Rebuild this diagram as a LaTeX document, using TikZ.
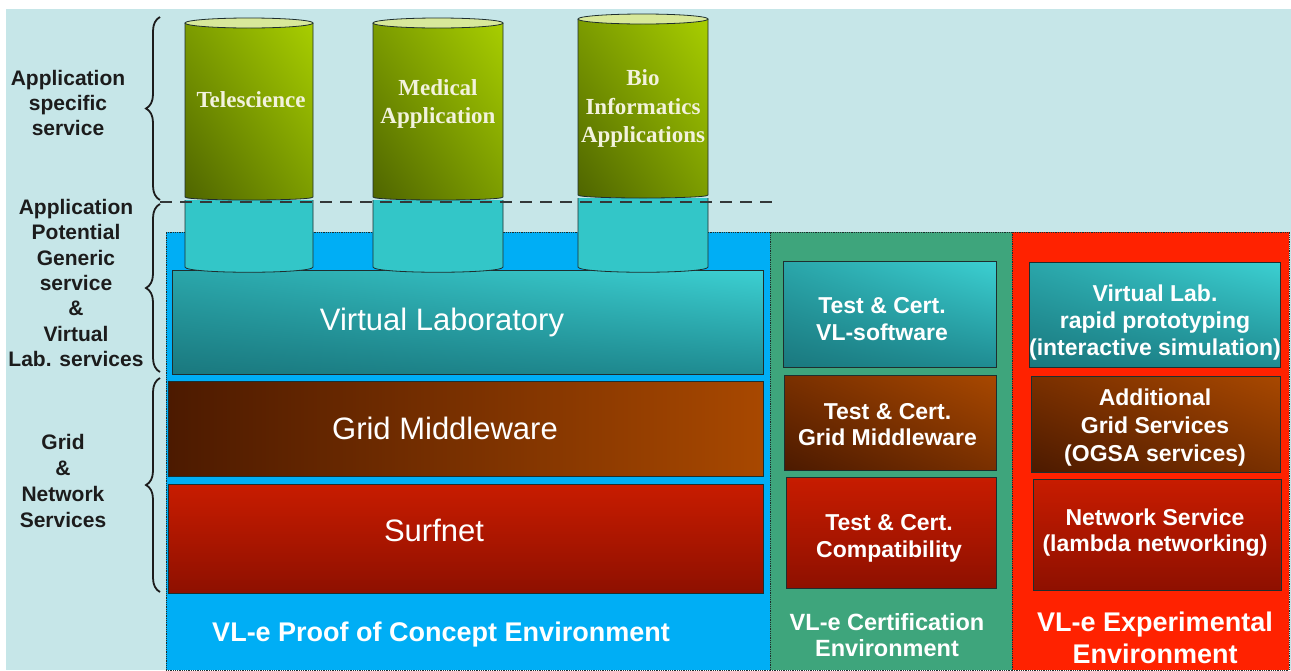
\documentclass[tikz,border=0pt]{standalone}
\usepackage{fontspec}
\setmainfont{Liberation Sans}
\newfontfamily\cylfont{Liberation Serif}
\usetikzlibrary{decorations.pathreplacing,shadings}

\definecolor{bgc}{HTML}{C6E6E8}
\definecolor{envblue}{HTML}{00AEF5}
\definecolor{envgreen}{HTML}{3EA57C}
\definecolor{envred}{HTML}{FF2200}
\definecolor{edgec}{HTML}{1E2E2E}
\definecolor{lblc}{HTML}{1C1C1C}
\definecolor{tealA}{HTML}{3CD0D2}
\definecolor{tealB}{HTML}{2AA6AA}
\definecolor{tealC}{HTML}{1A787E}
\definecolor{tealD}{HTML}{1F8C92}
\definecolor{brownA}{HTML}{A84800}
\definecolor{brownB}{HTML}{7A3000}
\definecolor{brownC}{HTML}{4C1A00}
\definecolor{redA}{HTML}{C81C00}
\definecolor{redB}{HTML}{B01600}
\definecolor{redC}{HTML}{8E1000}
\definecolor{cylcyan}{HTML}{33C6C8}
\definecolor{cylcap}{HTML}{D8E89A}
\definecolor{greenA}{HTML}{A8CE00}
\definecolor{greenB}{HTML}{7C9C00}
\definecolor{greenC}{HTML}{4E6400}
\definecolor{cylt}{HTML}{F2F2DC}
\definecolor{dashc}{HTML}{333838}

\tikzset{
  lbl/.style={font=\fontsize{21}{25.3}\selectfont\bfseries, text=lblc, align=center, inner sep=0pt},
  bigtxt/.style={font=\fontsize{31}{36}\selectfont, text=white, inner sep=0pt},
  boxtxt/.style={font=\fontsize{23}{26.5}\selectfont\bfseries, text=white, align=center, inner sep=0pt},
  envtxt/.style={font=\fontsize{27}{32}\selectfont\bfseries, text=white, align=center, inner sep=0pt},
  certtxt/.style={font=\fontsize{23.5}{26}\selectfont\bfseries, text=white, align=center, inner sep=0pt},
  cyltxt/.style={font=\cylfont\fontsize{23}{28.5}\selectfont\bfseries, text=cylt, align=center, inner sep=0pt},
  envbox/.style={draw=edgec, densely dotted, line width=0.8pt, inner sep=0pt, rectangle},
  layerbox/.style={draw=edgec, line width=0.8pt, inner sep=0pt, rectangle},
  tealbox/.style={layerbox, upper left=tealB, upper right=tealA, lower left=tealC, lower right=tealD},
  brownbox/.style={layerbox, upper left=brownB, upper right=brownA, lower left=brownC, lower right=brownB},
  redbox/.style={layerbox, top color=redA, bottom color=redC},
  cylline/.style={draw=edgec, line width=0.8pt},
  cylgreen/.style={upper left=greenB, upper right=greenA, lower left=greenC, lower right=greenB},
  brc/.style={draw=lblc, line width=1.8pt, decorate, decoration={brace, amplitude=14pt, aspect=0.5}},
  dashline/.style={draw=dashc, line width=2.6pt, dash pattern=on 12pt off 8pt}
}

\begin{document}
\begin{tikzpicture}[x=1pt,y=-1pt]
\useasboundingbox (0,0) rectangle (1291,670);
\fill[white] (0,0) rectangle (1291,670);
\fill[bgc] (6,9) rectangle (1291,670);

% environment regions
\node[envbox, fill=envblue, minimum width=604pt, minimum height=438pt] (poc) at (468,451) {};
\node[envbox, fill=envgreen, minimum width=242pt, minimum height=438pt] (cert) at (891,451) {};
\node[envbox, fill=envred, minimum width=277pt, minimum height=438pt] (exp) at (1150.5,451) {};

% main layers
\node[tealbox, minimum width=591pt, minimum height=104pt] (vl) at (467.5,322) {};
\node[layerbox, left color=brownC, right color=brownA, minimum width=595pt, minimum height=95pt] (gm) at (465.5,428.5) {};
\node[redbox, minimum width=595pt, minimum height=109pt] (sn) at (465.5,538.5) {};
\node[bigtxt] (vlt) at (442,322) {Virtual Laboratory};
\node[bigtxt] (gmt) at (445,428) {Grid Middleware};
\node[bigtxt] (snt) at (434,530) {Surfnet};
\node[envtxt] (poct) at (441,635) {VL-e Proof of Concept Environment};

% cylinders: Telescience
\fill[cylcyan] (185,200) -- (185,267) .. controls (185,274) and (313,274) .. (313,267) -- (313,200) -- cycle;
\draw[cylline] (185,200) -- (185,267) .. controls (185,274) and (313,274) .. (313,267) -- (313,200);
\shade[cylgreen] (185,23) -- (185,197) .. controls (185,201) and (313,201) .. (313,197) -- (313,23) -- cycle;
\draw[cylline] (185,23) -- (185,197) .. controls (185,201) and (313,201) .. (313,197) -- (313,23);
\filldraw[fill=cylcap, cylline] (249,23) ellipse [x radius=64, y radius=5];
% Medical
\fill[cylcyan] (373,200) -- (373,267) .. controls (373,274) and (503,274) .. (503,267) -- (503,200) -- cycle;
\draw[cylline] (373,200) -- (373,267) .. controls (373,274) and (503,274) .. (503,267) -- (503,200);
\shade[cylgreen] (373,23) -- (373,197) .. controls (373,201) and (503,201) .. (503,197) -- (503,23) -- cycle;
\draw[cylline] (373,23) -- (373,197) .. controls (373,201) and (503,201) .. (503,197) -- (503,23);
\filldraw[fill=cylcap, cylline] (438,23) ellipse [x radius=65, y radius=5];
% Bio
\fill[cylcyan] (578,198) -- (578,267) .. controls (578,274) and (708,274) .. (708,267) -- (708,198) -- cycle;
\draw[cylline] (578,198) -- (578,267) .. controls (578,274) and (708,274) .. (708,267) -- (708,198);
\shade[cylgreen] (578,19) -- (578,195) .. controls (578,199) and (708,199) .. (708,195) -- (708,19) -- cycle;
\draw[cylline] (578,19) -- (578,195) .. controls (578,199) and (708,199) .. (708,195) -- (708,19);
\filldraw[fill=cylcap, cylline] (643,19) ellipse [x radius=65, y radius=5];

\node[cyltxt] (tele) at (251,100) {Telescience};
\node[cyltxt] (med) at (438,104) {Medical\\Application};
\node[cyltxt] (bio) at (643,108.5) {Bio\\Informatics\\Applications};

% dashed separator
\coordinate (d1) at (160,202);
\coordinate (d2) at (775,202);
\draw[dashline] (d1) -- (d2);

% certification column
\node[tealbox, minimum width=213pt, minimum height=106pt] (c1) at (889.5,314) {};
\node[brownbox, minimum width=212pt, minimum height=95pt] (c2) at (890,422.5) {};
\node[redbox, minimum width=210pt, minimum height=111pt] (c3) at (891,532.5) {};
\node[boxtxt] (c1t) at (882,319) {Test \& Cert.\\VL-software};
\node[boxtxt] (c2t) at (887.5,424.5) {Test \& Cert.\\Grid Middleware};
\node[boxtxt] (c3t) at (889,538.5) {Test \& Cert.\\Compatibility};
\node[certtxt] (certt) at (887,635) {VL-e Certification\\Environment};

% experimental column
\node[tealbox, minimum width=251pt, minimum height=105pt] (e1) at (1154.5,314.5) {};
\node[brownbox, minimum width=249pt, minimum height=96pt] (e2) at (1155.5,424) {};
\node[redbox, minimum width=248pt, minimum height=111pt] (e3) at (1157,534.5) {};
\node[boxtxt, font=\fontsize{23}{27}\selectfont\bfseries] (e1t) at (1155,323) {Virtual Lab.\\rapid prototyping\\(interactive simulation)};
\node[boxtxt, font=\fontsize{23}{28}\selectfont\bfseries] (e2t) at (1155,428) {Additional\\Grid Services\\(OGSA services)};
\node[boxtxt] (e3t) at (1155,532.5) {Network Service\\(lambda networking)};
\node[envtxt] (expt) at (1155,638) {VL-e Experimental\\Environment};

% left labels and braces
\node[lbl] (l1) at (68,103) {Application\\specific\\service};
\node[lbl] (l2) at (76,283) {Application\\Potential\\Generic\\service\\\&\\Virtual\\Lab. services};
\node[lbl, font=\fontsize{21}{26}\selectfont\bfseries] (l3) at (63,481) {Grid\\\&\\Network\\Services};
\coordinate (b1a) at (160,200);
\coordinate (b1b) at (160,17);
\coordinate (b2a) at (160,372);
\coordinate (b2b) at (160,204);
\coordinate (b3a) at (160,592);
\coordinate (b3b) at (160,378);
\draw[brc] (b1a) -- (b1b);
\draw[brc] (b2a) -- (b2b);
\draw[brc] (b3a) -- (b3b);
\end{tikzpicture}
\end{document}
